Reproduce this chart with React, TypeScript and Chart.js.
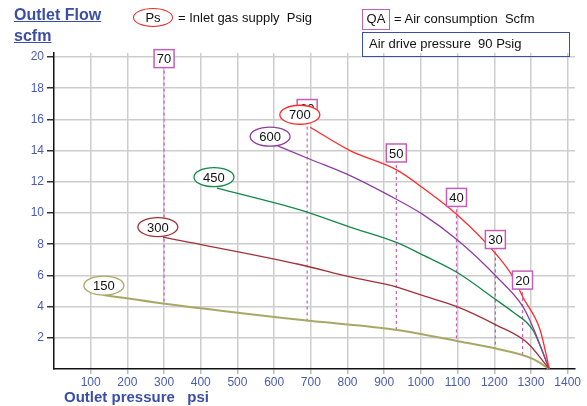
import React, { useEffect, useRef } from "react";
import { Chart, registerables } from "chart.js";
Chart.register(...registerables);

const xTicks = [100, 200, 300, 400, 500, 600, 700, 800, 900, 1000, 1100, 1200, 1300, 1400];
const yTicks = [2, 4, 6, 8, 10, 12, 14, 16, 18, 20];

const ps700X = [698, 807, 935, 1006, 1098, 1207, 1251, 1278, 1325, 1350];
const ps700Y = [15.5, 14.0, 12.75, 11.6, 9.9, 7.3, 5.9, 4.6, 2.5, 0];
const ps600X = [610, 703, 807, 908, 1006, 1098, 1207, 1278, 1305, 1350];
const ps600Y = [14.3, 13.4, 12.4, 11.2, 9.9, 8.3, 5.9, 4.0, 2.7, 0];
const ps450X = [444, 670, 807, 935, 1006, 1098, 1207, 1251, 1305, 1350];
const ps450Y = [11.6, 10.2, 9.1, 8.1, 7.3, 6.2, 4.4, 3.65, 2.5, 0];
const ps300X = [297, 670, 807, 935, 1006, 1098, 1207, 1289, 1350];
const ps300Y = [8.45, 6.7, 5.9, 5.25, 4.7, 4.0, 2.8, 1.7, 0];
const ps150X = [134, 297, 670, 935, 1098, 1207, 1305, 1350];
const ps150Y = [4.75, 4.2, 3.15, 2.5, 1.8, 1.3, 0.65, 0];

const psLabels = ["700", "600", "450", "300", "150"];
const psColors = ["#ff2a2a", "#8e3f9e", "#16884a", "#a3303a", "#a8a866"];
const psLabelX = [670, 589, 436, 283, 136];
const psLabelY = [16.3, 14.9, 12.3, 9.1, 5.35];

const qaLabels = ["70", "60", "50", "40", "30", "20"];
const qaX = [300, 690, 933, 1097, 1203, 1277];
const qaTopY = [19.9, 16.7, 13.85, 11.0, 8.3, 5.7];
const qaBottomY = [4.2, 3.05, 2.5, 1.8, 1.3, 0.85];

const BLUE = "#3b4ea6";
const TICK_BLUE = "#4a5cb0";
const QA_COLOR = "#c55fb5";

function pts(xs: number[], ys: number[]) {
  return xs.map((x, i) => ({ x, y: ys[i] }));
}

const labelPlugin = {
  id: "labels",
  afterDatasetsDraw(chart: any) {
    const { ctx, scales } = chart;
    const xs = scales.x, ys = scales.y;
    ctx.save();
    ctx.font = "13px Arial, 'Liberation Sans', sans-serif";
    ctx.textAlign = "center";
    ctx.textBaseline = "middle";
    // QA boxes
    qaLabels.forEach((t, i) => {
      const cx = xs.getPixelForValue(qaX[i]);
      const cy = ys.getPixelForValue(qaTopY[i]);
      const w = 20, h = 18;
      ctx.fillStyle = "#fff";
      ctx.fillRect(cx - w / 2, cy - h / 2, w, h);
      ctx.strokeStyle = QA_COLOR;
      ctx.lineWidth = 1.5;
      ctx.strokeRect(cx - w / 2, cy - h / 2, w, h);
      ctx.fillStyle = "#111";
      ctx.fillText(t, cx, cy + 1);
    });
    // Ps ellipses
    psLabels.forEach((t, i) => {
      const cx = xs.getPixelForValue(psLabelX[i]);
      const cy = ys.getPixelForValue(psLabelY[i]);
      ctx.beginPath();
      ctx.ellipse(cx, cy, 20, 9.5, 0, 0, Math.PI * 2);
      ctx.fillStyle = "#fff";
      ctx.fill();
      ctx.strokeStyle = psColors[i];
      ctx.lineWidth = 1.3;
      ctx.stroke();
      ctx.fillStyle = "#111";
      ctx.fillText(t, cx, cy + 1);
    });
    ctx.restore();
  },
};

export default function App() {
  const ref = useRef<HTMLCanvasElement>(null);
  useEffect(() => {
    const curves = [
      pts(ps700X, ps700Y),
      pts(ps600X, ps600Y),
      pts(ps450X, ps450Y),
      pts(ps300X, ps300Y),
      pts(ps150X, ps150Y),
    ];
    const datasets: any[] = curves.map((d, i) => ({
      label: "Ps " + psLabels[i],
      data: d,
      borderColor: psColors[i],
      borderWidth: i === 4 ? 2 : 1.3,
      pointRadius: 0,
      cubicInterpolationMode: "monotone",
      fill: false,
    }));
    qaLabels.forEach((t, i) => {
      datasets.push({
        label: "QA " + t,
        data: [
          { x: qaX[i], y: qaTopY[i] },
          { x: qaX[i], y: qaBottomY[i] },
        ],
        borderColor: QA_COLOR,
        borderWidth: 1.2,
        borderDash: [3, 3],
        pointRadius: 0,
        fill: false,
      });
    });
    const chart = new Chart(ref.current!, {
      type: "line",
      data: { datasets },
      plugins: [labelPlugin],
      options: {
        animation: false,
        responsive: false,
        layout: { padding: { top: 53, right: 12, left: 0, bottom: 0 } },
        plugins: { legend: { display: false }, tooltip: { enabled: false } },
        scales: {
          x: {
            type: "linear",
            min: 0,
            max: 1420,
            afterBuildTicks: (s: any) => {
              s.ticks = xTicks.map((v) => ({ value: v }));
            },
            afterFit: (s: any) => {
              s.height = 37;
            },
            grid: { color: "#cdcdcd", lineWidth: 1.5, tickLength: 5, tickColor: "#bbb" },
            border: { color: "#111", width: 1.5 },
            ticks: {
              color: TICK_BLUE,
              padding: 1,
              maxRotation: 0,
              font: { family: "Arial, 'Liberation Sans', sans-serif", size: 12 },
              callback: (v: any) => String(v),
            },
          },
          y: {
            type: "linear",
            min: 0,
            max: 20.26,
            afterBuildTicks: (s: any) => {
              s.ticks = yTicks.map((v) => ({ value: v }));
            },
            afterFit: (s: any) => {
              s.width = 54;
            },
            grid: { color: "#cdcdcd", lineWidth: 1.5, tickLength: 7, tickColor: "#333" },
            border: { color: "#111", width: 1.5 },
            ticks: {
              color: TICK_BLUE,
              padding: 3,
              font: { family: "Arial, 'Liberation Sans', sans-serif", size: 12 },
              callback: (v: any) => String(v),
            },
          },
        },
      },
    } as any);
    return () => chart.destroy();
  }, []);

  const font = "Arial, 'Liberation Sans', sans-serif";
  return (
    <div style={{ position: "absolute", left: 0, top: 0, width: 587, height: 406, background: "#fff", fontFamily: font }}>
      <canvas ref={ref} width={587} height={406} style={{ position: "absolute", left: 0, top: 0, width: 587, height: 406 }} />
      <div style={{ position: "absolute", left: 14, top: 5, color: BLUE, fontWeight: "bold", fontSize: 16, lineHeight: "20px", textDecoration: "underline" }}>
        Outlet Flow
      </div>
      <div style={{ position: "absolute", left: 14, top: 26, color: BLUE, fontWeight: "bold", fontSize: 16, lineHeight: "20px", textDecoration: "underline" }}>
        scfm
      </div>
      <div style={{ position: "absolute", left: 133, top: 8, width: 40, height: 19, border: "1.3px solid #ee2a2a", borderRadius: "50%", boxSizing: "border-box", textAlign: "center", fontSize: 13, lineHeight: "17px", color: "#111" }}>
        Ps
      </div>
      <div style={{ position: "absolute", left: 178, top: 9, fontSize: 13, lineHeight: "17px", color: "#111", whiteSpace: "pre" }}>
        {"= Inlet gas supply  Psig"}
      </div>
      <div style={{ position: "absolute", left: 362, top: 9, width: 28, height: 21, border: "1.5px solid " + QA_COLOR, boxSizing: "border-box", textAlign: "center", fontSize: 13, lineHeight: "18px", color: "#111" }}>
        QA
      </div>
      <div style={{ position: "absolute", left: 394, top: 10, fontSize: 13, lineHeight: "17px", color: "#111", whiteSpace: "pre" }}>
        {"= Air consumption  Scfm"}
      </div>
      <div style={{ position: "absolute", left: 362, top: 32, width: 208, height: 25, border: "1.5px solid " + BLUE, boxSizing: "border-box", paddingLeft: 6, fontSize: 13, lineHeight: "21px", color: "#111", whiteSpace: "pre" }}>
        {"Air drive pressure  90 Psig"}
      </div>
      <div style={{ position: "absolute", left: 64, top: 388, color: BLUE, fontWeight: "bold", fontSize: 15, lineHeight: "18px", whiteSpace: "pre" }}>
        {"Outlet pressure   psi"}
      </div>
    </div>
  );
}
